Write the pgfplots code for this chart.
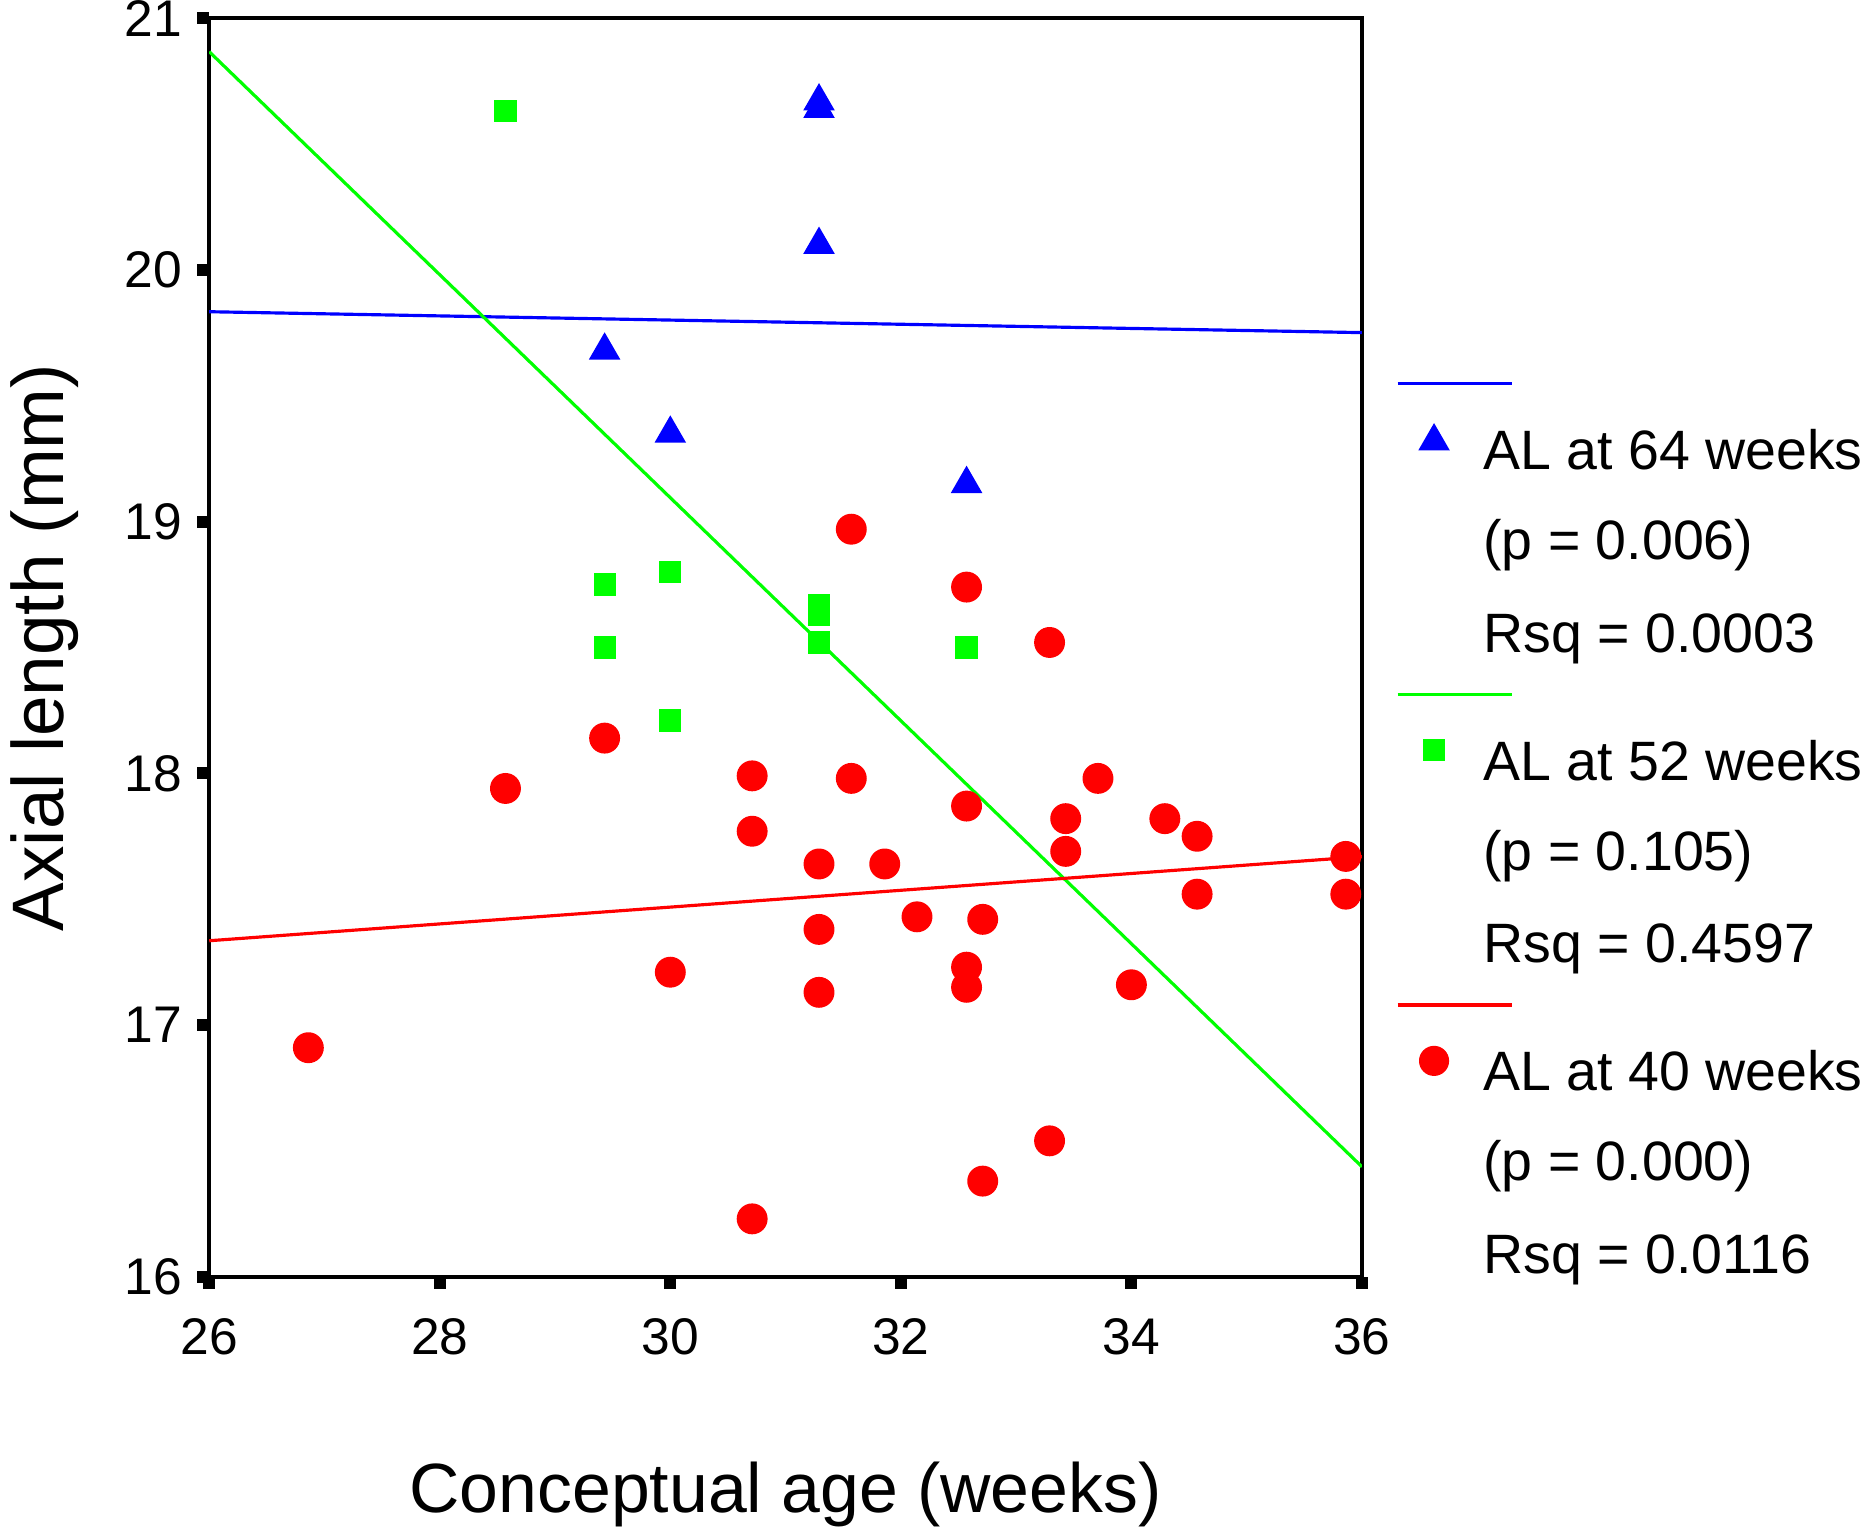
\documentclass[border=0pt]{standalone}
\usepackage{fontspec}
\setmainfont{Liberation Sans}
\usepackage{pgfplots}
\pgfplotsset{compat=1.18}
\definecolor{cblue}{RGB}{0,0,255}
\definecolor{cgreen}{RGB}{0,255,0}
\definecolor{cred}{RGB}{255,0,0}
\begin{document}
\begin{tikzpicture}
\begin{axis}[
  at={(0pt,0pt)}, anchor=south west,
  scale only axis, width=290.9pt, height=317.6pt,
  xmin=26, xmax=36, ymin=16, ymax=21,
  xtick={26,28,30,32,34,36}, ytick={16,17,18,19,20,21},
  xtick pos=bottom, ytick pos=left,
  tick align=outside, major tick length=3pt,
  every tick/.style={black, line width=3pt},
  axis line style={black, line width=1pt},
  /pgf/number format/assume math mode=true,
  ticklabel style={font=\fontsize{13}{15}\selectfont},
  xticklabel style={anchor=north, inner sep=0pt, yshift=-7.3pt},
  yticklabel style={anchor=east, inner sep=0pt, xshift=-3.6pt},
  xlabel={Conceptual age (weeks)},
  ylabel={Axial length (mm)},
  xlabel style={font=\fontsize{17.6}{20}\selectfont, at={(axis description cs:0.5,-0.1873)}, anchor=base},
  ylabel style={font=\fontsize{18.4}{20}\selectfont, at={(axis description cs:-0.1268,0.5)}, anchor=base},
]
% AL at 40 weeks
\addplot[only marks, mark=*, mark size=3.7pt, draw=cred, fill=cred] coordinates {
(26.86,16.91) (28.57,17.94) (29.43,18.14) (30.00,17.21)
(30.71,17.99) (30.71,17.77) (30.71,16.23)
(31.29,17.64) (31.29,17.38) (31.29,17.13)
(31.57,18.97) (31.57,17.98) (31.86,17.64) (32.14,17.43)
(32.57,18.74) (32.57,17.87) (32.57,17.23) (32.57,17.15)
(32.71,17.42) (32.71,16.38) (33.29,18.52) (33.29,16.54)
(33.43,17.82) (33.43,17.69) (33.71,17.98) (34.00,17.16)
(34.29,17.82) (34.57,17.75) (34.57,17.52) (35.86,17.67) (35.86,17.52)
};
% AL at 52 weeks
\addplot[only marks, mark=square*, mark size=2.6pt, draw=cgreen, fill=cgreen] coordinates {
(28.57,20.63) (29.43,18.75) (29.43,18.50) (30.00,18.80) (30.00,18.21)
(31.29,18.67) (31.29,18.63) (31.29,18.52) (32.57,18.50)
};
% AL at 64 weeks
\addplot[only marks, mark=triangle*, mark size=4.2pt, draw=cblue, fill=cblue] coordinates {
(31.29,20.67) (31.29,20.64) (31.29,20.10) (29.43,19.68) (30.00,19.35) (32.57,19.15)
};
% fit lines
\addplot[cblue, line width=0.8pt] coordinates {(26,19.834) (36,19.751)};
\addplot[cgreen, line width=0.8pt] coordinates {(26,20.867) (36,16.437)};
\addplot[cred, line width=0.8pt] coordinates {(26,17.335) (36,17.669)};
\end{axis}
% legend, drawn in a hidden axis spanning the whole picture (units: reference pixels)
\begin{axis}[
  at={(-52.8pt,-63.9pt)}, anchor=south west,
  scale only axis, width=470.4pt, height=386.1pt,
  xmin=0, xmax=1568, ymin=0, ymax=1287, y dir=reverse,
  hide axis, clip=false,
]
\addplot[cblue, line width=0.8pt] coordinates {(1175.7,322.8) (1272.2,322.8)};
\addplot[cgreen, line width=0.8pt] coordinates {(1175.7,584.1) (1272.2,584.1)};
\addplot[cred, line width=0.8pt] coordinates {(1175.7,845.4) (1272.2,845.4)};
\addplot[only marks, mark=triangle*, mark size=4.2pt, draw=cblue, fill=cblue] coordinates {(1206.3,371.2)};
\addplot[only marks, mark=square*, mark size=2.6pt, draw=cgreen, fill=cgreen] coordinates {(1206.3,631.2)};
\addplot[only marks, mark=*, mark size=3.6pt, draw=cred, fill=cred] coordinates {(1206.3,892.4)};
\begin{scope}[every node/.style={anchor=base west, inner sep=0pt, font=\fontsize{14}{16}\selectfont}]
\node at (axis cs:1247.2,395.0) {AL at 64 weeks};
\node at (axis cs:1247.2,470.6) {(p = 0.006)};
\node at (axis cs:1247.2,548.6) {Rsq = 0.0003};
\node at (axis cs:1247.2,656.3) {AL at 52 weeks};
\node at (axis cs:1247.2,731.9) {(p = 0.105)};
\node at (axis cs:1247.2,809.9) {Rsq = 0.4597};
\node at (axis cs:1247.2,917.6) {AL at 40 weeks};
\node at (axis cs:1247.2,993.2) {(p = 0.000)};
\node at (axis cs:1247.2,1071.2) {Rsq = 0.0116};
\end{scope}
\end{axis}
\pgfresetboundingbox
\path[use as bounding box] (-52.8pt,-63.9pt) rectangle (417.6pt,322.2pt);
\end{tikzpicture}
\end{document}
